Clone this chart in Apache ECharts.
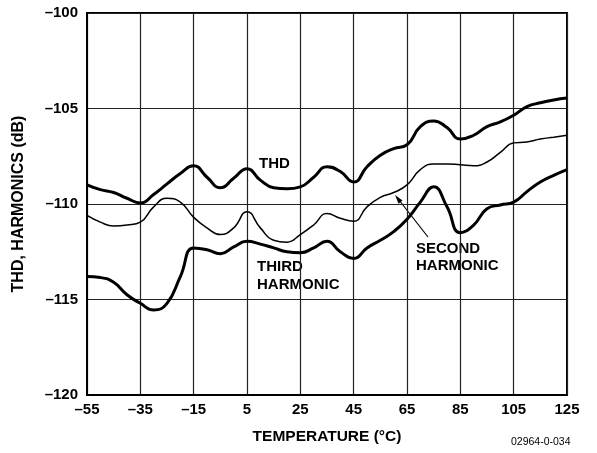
<!DOCTYPE html>
<html>
<head>
<meta charset="utf-8">
<script src="https://cdn.jsdelivr.net/npm/echarts@6/dist/echarts.min.js"></script>
<style>html,body{margin:0;padding:0;background:#fff;}#c{width:597px;height:453px;}</style>
</head>
<body>
<div id="c"></div>
<script>
var temps = [-55,-50,-45,-40,-35,-30,-25,-20,-15,-10,-5,0,5,10,15,20,25,30,35,40,45,50,55,60,65,70,75,80,85,90,95,100,105,110,115,120,125];
var thd = [-109.0,-109.25,-109.4,-109.7,-109.95,-109.5,-108.95,-108.4,-108.0,-108.6,-109.15,-108.65,-108.15,-108.75,-109.15,-109.2,-109.1,-108.6,-108.05,-108.3,-108.85,-108.05,-107.45,-107.1,-106.9,-105.95,-105.65,-106.0,-106.6,-106.4,-105.95,-105.7,-105.35,-104.9,-104.7,-104.55,-104.45];
var thirdHarmonic = [-110.6,-110.95,-111.15,-111.1,-110.95,-110.15,-109.7,-109.9,-110.7,-111.25,-111.6,-111.25,-110.4,-111.25,-111.9,-112.0,-111.6,-111.1,-110.5,-110.75,-110.9,-110.15,-109.65,-109.4,-109.0,-108.2,-107.9,-107.9,-107.95,-108.0,-107.8,-107.3,-106.8,-106.75,-106.6,-106.5,-106.4];
var secondHarmonic = [-113.8,-113.85,-114.1,-114.75,-115.2,-115.55,-115.2,-113.8,-112.3,-112.4,-112.6,-112.25,-111.95,-112.1,-112.3,-112.5,-112.55,-112.3,-111.95,-112.5,-112.85,-112.3,-111.9,-111.45,-110.8,-109.9,-109.1,-110.15,-111.5,-111.1,-110.25,-110.05,-109.9,-109.35,-108.85,-108.5,-108.2];
var xTicks = [-55,-35,-15,5,25,45,65,85,105,125];
var yTicks = [-120,-115,-110,-105,-100];

function pairs(vals){ return temps.map(function(t,i){ return [t, vals[i]]; }); }
function fmt(v){ return v < 0 ? '\u2013' + Math.abs(v) : String(v); }

var FONT = 'Liberation Sans, Arial, sans-serif';
var chart = echarts.init(document.getElementById('c'), null, {renderer:'canvas'});
chart.setOption({
  animation: false,
  backgroundColor: '#fff',
  grid: {left: 87, top: 13, right: 30, bottom: 58, show: true, borderColor: '#000', borderWidth: 2, backgroundColor: 'transparent'},
  xAxis: {
    type: 'value', min: -55, max: 125, interval: 20,
    name: 'TEMPERATURE (°C)', nameLocation: 'middle', nameGap: 34,
    nameTextStyle: {fontFamily: FONT, fontWeight: 'bold', fontSize: 15.5, color: '#000'},
    axisLine: {show: true, onZero: false, lineStyle: {color: '#000', width: 2}},
    axisTick: {show: false},
    axisLabel: {fontFamily: FONT, fontWeight: 'bold', fontSize: 15, color: '#000', margin: 7,
      formatter: function(v){ return xTicks.indexOf(v) >= 0 ? fmt(v) : ''; }},
    splitLine: {show: true, lineStyle: {color: '#222', width: 1.2}}
  },
  yAxis: {
    type: 'value', min: -120, max: -100, interval: 5,
    name: 'THD, HARMONICS (dB)', nameLocation: 'middle', nameGap: 60,
    nameTextStyle: {fontFamily: FONT, fontWeight: 'bold', fontSize: 16, color: '#000'},
    axisLine: {show: true, onZero: false, lineStyle: {color: '#000', width: 2}},
    axisTick: {show: false},
    axisLabel: {fontFamily: FONT, fontWeight: 'bold', fontSize: 15, color: '#000', margin: 9,
      formatter: function(v){ return yTicks.indexOf(v) >= 0 ? fmt(v) : ''; }},
    splitLine: {show: true, lineStyle: {color: '#222', width: 1.2}}
  },
  series: [
    {name: 'THD', type: 'line', data: pairs(thd), smooth: 0.5, showSymbol: false, lineStyle: {color: '#000', width: 3}},
    {name: 'THIRD HARMONIC', type: 'line', data: pairs(thirdHarmonic), smooth: 0.5, showSymbol: false, lineStyle: {color: '#000', width: 1.5}},
    {name: 'SECOND HARMONIC', type: 'line', data: pairs(secondHarmonic), smooth: 0.5, showSymbol: false, lineStyle: {color: '#000', width: 3}}
  ],
  graphic: [
    {type: 'text', left: 259, top: 156, style: {text: 'THD', fontFamily: FONT, fontWeight: 'bold', fontSize: 15, fill: '#000'}},
    {type: 'text', left: 257, top: 258, style: {text: 'THIRD\nHARMONIC', fontFamily: FONT, fontWeight: 'bold', fontSize: 15, lineHeight: 18, fill: '#000'}},
    {type: 'text', left: 416, top: 240, style: {text: 'SECOND\nHARMONIC', fontFamily: FONT, fontWeight: 'bold', fontSize: 15, lineHeight: 17, fill: '#000'}},
    {type: 'line', shape: {x1: 428, y1: 237, x2: 399, y2: 200}, style: {stroke: '#000', lineWidth: 1.2}},
    {type: 'polygon', shape: {points: [[395,195],[402.5,200.6],[398.6,203.7]]}, style: {fill: '#000'}},
    {type: 'text', left: 511, top: 437, style: {text: '02964-0-034', fontFamily: FONT, fontSize: 10.5, fill: '#000'}}
  ]
});
</script>
</body>
</html>
